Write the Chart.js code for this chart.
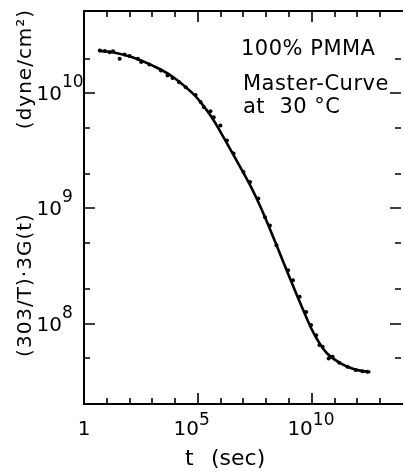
<!DOCTYPE html>
<html>
<head>
<meta charset="utf-8">
<script src="https://cdn.jsdelivr.net/npm/chart.js@4"></script>
<style>
  html, body { margin: 0; padding: 0; background: #fff; }
  #wrap { position: relative; width: 405px; height: 471px; }
</style>
</head>
<body>
<div id="wrap"><canvas id="masterCurve" width="405" height="471"></canvas></div>
<script>
// smooth master curve (t in sec, modulus in dyne/cm2)
const curveTime = [4.94, 18.1, 133, 980, 7210, 5.31e4, 1.44e5, 3.91e5, 1.06e6, 4.73e6, 2.11e7, 5.74e7,
  2.56e8, 1.15e9, 5.12e9, 8.43e9, 1.70e10, 4.60e10, 1.69e11, 6.81e11, 2.49e12, 3.72e12];
const curveModulus = [2.34e10, 2.28e10, 2.06e10, 1.75e10, 1.41e10, 1.02e10, 8.20e9, 6.26e9, 4.50e9, 2.66e9, 1.55e9, 1.02e9,
  5.04e8, 2.41e8, 1.19e8, 9.53e7, 7.31e7, 5.52e7, 4.56e7, 4.02e7, 3.82e7, 3.80e7];

// measured points
const pointTime = [4.97, 8.2, 13.5, 18.8, 36.7, 60.7, 100, 230, 323, 741,
  2390, 4620, 7640, 1.49e4, 2.92e4, 7.9e4, 1.31e5, 1.82e5, 3.56e5, 4.96e5,
  9.7e5, 1.88e6, 3.67e6, 1.0e7, 1.95e7, 4.49e7, 8.8e7, 1.45e8, 2.8e8, 9.1e8,
  1.49e9, 2.92e9, 5.65e9, 9.3e9, 1.54e10, 2.16e10, 3.0e10, 5.5e10, 8.2e10, 1.6e11,
  3.67e11, 8.4e11, 1.65e12, 2.72e12];
const pointModulus = [2.36e10, 2.33e10, 2.28e10, 2.32e10, 2.0e10, 2.18e10, 2.11e10, 2.0e10, 1.87e10, 1.78e10,
  1.58e10, 1.43e10, 1.36e10, 1.25e10, 1.13e10, 9.7e9, 8.4e9, 7.6e9, 6.98e9, 6.2e9,
  5.27e9, 3.9e9, 3.0e9, 2.08e9, 1.70e9, 1.22e9, 8.4e8, 7.1e8, 4.8e8, 2.9e8,
  2.38e8, 1.71e8, 1.26e8, 9.7e7, 7.9e7, 6.5e7, 6.3e7, 4.98e7, 5.14e7, 4.56e7,
  4.21e7, 3.94e7, 3.86e7, 3.81e7];

// axes
const xMajorTicks = [1, 1e5, 1e10];
const xMinorTicks = [10, 100, 1e3, 1e4, 1e6, 1e7, 1e8, 1e9, 1e11, 1e12, 1e13];
const xTickBase = ['1', '10', '10'];
const xTickExp = ['', '5', '10'];
const yMajorTicks = [1e8, 1e9, 1e10];
const yMinorTicks = [2e7, 5e7, 2e8, 5e8, 2e9, 5e9, 2e10];
const yTickBase = ['10', '10', '10'];
const yTickExp = ['8', '9', '10'];

const FONT = '"DejaVu Sans", sans-serif';

const framePlugin = {
  id: 'frame',
  beforeDraw(chart) {
    const ctx = chart.ctx;
    ctx.save();
    ctx.fillStyle = '#fff';
    ctx.fillRect(0, 0, chart.width, chart.height);
    ctx.restore();
  },
  afterDraw(chart) {
    const { ctx, chartArea: a, scales: { x, y } } = chart;
    ctx.save();
    ctx.strokeStyle = '#000';
    ctx.fillStyle = '#000';

    // box (right side runs off the picture)
    ctx.lineWidth = 2;
    ctx.beginPath();
    ctx.moveTo(a.right + 2, a.top);
    ctx.lineTo(a.left, a.top);
    ctx.lineTo(a.left, a.bottom);
    ctx.lineTo(a.right + 2, a.bottom);
    ctx.stroke();

    // inward ticks on all four sides
    ctx.lineWidth = 1.6;
    const xTick = (v, len) => {
      const px = Math.round(x.getPixelForValue(v));
      ctx.beginPath();
      ctx.moveTo(px, a.bottom); ctx.lineTo(px, a.bottom - len);
      ctx.moveTo(px, a.top); ctx.lineTo(px, a.top + len);
      ctx.stroke();
    };
    const yTick = (v, len) => {
      const py = Math.round(y.getPixelForValue(v));
      ctx.beginPath();
      ctx.moveTo(a.left, py); ctx.lineTo(a.left + len, py);
      ctx.moveTo(a.right, py); ctx.lineTo(a.right - len, py);
      ctx.stroke();
    };
    xMajorTicks.forEach(v => xTick(v, 11));
    xMinorTicks.forEach(v => xTick(v, 6));
    yMajorTicks.forEach(v => yTick(v, 11));
    yMinorTicks.forEach(v => yTick(v, 6));

    // tick labels with raised exponents
    const baseFont = '20px ' + FONT;
    const expFont = '17px ' + FONT;
    ctx.textBaseline = 'alphabetic';
    xMajorTicks.forEach((v, i) => {
      const px = x.getPixelForValue(v);
      ctx.font = baseFont;
      if (!xTickExp[i]) {
        ctx.textAlign = 'center';
        ctx.fillText(xTickBase[i], px, a.bottom + 31);
        return;
      }
      ctx.textAlign = 'right';
      ctx.fillText(xTickBase[i], px + 1, a.bottom + 31);
      ctx.font = expFont;
      ctx.textAlign = 'left';
      ctx.fillText(xTickExp[i], px + 1, a.bottom + 21);
    });
    yMajorTicks.forEach((v, i) => {
      const py = y.getPixelForValue(v);
      ctx.font = baseFont;
      ctx.textAlign = 'right';
      ctx.fillText(yTickBase[i], 62, py + 7);
      ctx.font = expFont;
      ctx.textAlign = 'left';
      ctx.fillText(yTickExp[i], 62, py - 6);
    });

    // axis titles
    ctx.font = '22px ' + FONT;
    ctx.textAlign = 'left';
    ctx.fillText('t', 185, 465);
    ctx.fillText('(sec)', 211, 465);

    ctx.save();
    ctx.translate(31, 0);
    ctx.rotate(-Math.PI / 2);
    ctx.font = '20px ' + FONT;
    ctx.letterSpacing = '1px';
    ctx.textAlign = 'center';
    ctx.fillText('(303/T)·3G(t)', -285, 0);
    ctx.fillText('(dyne/cm²)', -69, 0);
    ctx.restore();

    // annotation
    ctx.font = '21px ' + FONT;
    ctx.letterSpacing = '0.5px';
    ctx.textAlign = 'left';
    ctx.fillText('100% PMMA', 241, 55);
    ctx.fillText('Master-Curve', 243, 90);
    ctx.fillText('at  30 °C', 243, 113);
    ctx.restore();
  }
};

const ctx = document.getElementById('masterCurve');

new Chart(ctx, {
  type: 'scatter',
  data: {
    datasets: [
      {
        label: 'master curve',
        data: curveTime.map((t, i) => ({ x: t, y: curveModulus[i] })),
        showLine: true,
        borderColor: '#000',
        borderWidth: 2.6,
        pointRadius: 0,
        tension: 0.4
      },
      {
        label: 'measured',
        data: pointTime.map((t, i) => ({ x: t, y: pointModulus[i] })),
        showLine: false,
        backgroundColor: '#000',
        borderColor: '#000',
        borderWidth: 0,
        pointRadius: 2
      }
    ]
  },
  options: {
    responsive: false,
    animation: false,
    layout: { padding: { left: 84, top: 11, right: 0, bottom: 67 } },
    plugins: { legend: { display: false }, tooltip: { enabled: false } },
    scales: {
      x: { type: 'logarithmic', min: 1, max: 8.2e13, display: false },
      y: { type: 'logarithmic', min: 2e7, max: 5.2e10, display: false }
    }
  },
  plugins: [framePlugin]
});
</script>
</body>
</html>
